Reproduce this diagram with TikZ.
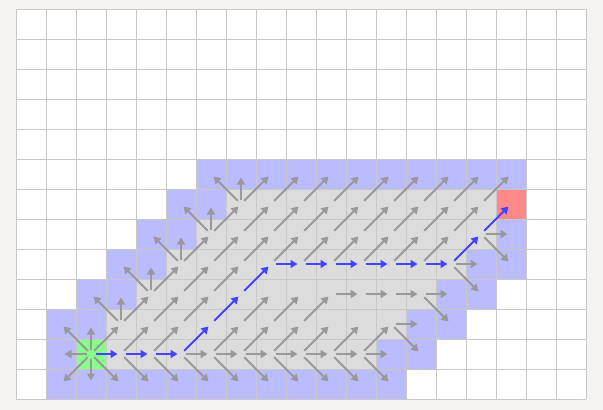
\documentclass[tikz,border=0pt]{standalone}
\usetikzlibrary{arrows.meta}
\definecolor{bgc}{HTML}{F4F3EF}
\definecolor{gridc}{HTML}{C8C8C8}
\definecolor{bluecell}{HTML}{BBBBFF}
\definecolor{graycell}{HTML}{DCDCDC}
\definecolor{startc}{HTML}{88FF88}
\definecolor{goalc}{HTML}{FF8888}
\definecolor{arrgray}{HTML}{999999}
\definecolor{arrblue}{HTML}{4444FF}
\newcommand\cellfill[4]{\fill[#4] ({16+30*#2},{9+30*#1}) rectangle ({46+30*#3},{39+30*#1});}
\begin{document}
\begin{tikzpicture}[x=1pt,y=-1pt,
  garrow/.style={draw=arrgray, line width=2pt, shorten <=4.5pt, shorten >=3.5pt, -{Triangle[length=7pt,width=8pt]}},
  barrow/.style={garrow, draw=arrblue},
  gridline/.style={draw=gridc, line width=1pt}]
\useasboundingbox (0,0) rectangle (603,410);
\fill[bgc] (0,0) rectangle (603,410);
\fill[white] (16,9) rectangle (586,399);
% blue cells
\cellfill{5}{6}{16}{bluecell}
\cellfill{6}{5}{6}{bluecell}
\cellfill{7}{4}{5}{bluecell}
\cellfill{7}{16}{16}{bluecell}
\cellfill{8}{3}{4}{bluecell}
\cellfill{8}{15}{16}{bluecell}
\cellfill{9}{2}{3}{bluecell}
\cellfill{9}{14}{15}{bluecell}
\cellfill{10}{1}{2}{bluecell}
\cellfill{10}{13}{14}{bluecell}
\cellfill{11}{1}{1}{bluecell}
\cellfill{11}{12}{13}{bluecell}
\cellfill{12}{1}{12}{bluecell}
% gray cells
\cellfill{6}{7}{15}{graycell}
\cellfill{7}{6}{15}{graycell}
\cellfill{8}{5}{14}{graycell}
\cellfill{9}{4}{13}{graycell}
\cellfill{10}{3}{12}{graycell}
\cellfill{11}{3}{11}{graycell}
% start and goal
\cellfill{11}{2}{2}{startc}
\cellfill{6}{16}{16}{goalc}
% grid
\foreach \i in {0,...,19} \draw[gridline] ({16+30*\i},9) -- ({16+30*\i},399);
\foreach \j in {0,...,13} \draw[gridline] (16,{9+30*\j}) -- (586,{9+30*\j});
% cell centres
\foreach \i in {0,...,18} \foreach \j in {0,...,12} \coordinate (n\i-\j) at ({31+30*\i},{24+30*\j});
% came-from arrows
\foreach \pa/\pb/\qa/\qb in {2/11/1/10, 2/11/2/10, 2/11/3/10, 2/11/1/11, 2/11/1/12, 2/11/2/12, 2/11/3/12,
  3/10/2/9, 3/10/3/9, 3/10/4/9,
  4/9/3/8, 4/9/4/8, 4/9/5/8,
  5/8/4/7, 5/8/5/7, 5/8/6/7,
  6/7/5/6, 6/7/6/6, 6/7/7/6,
  7/6/6/5, 7/6/7/5, 7/6/8/5,
  3/11/4/10, 3/11/4/12, 4/11/5/10, 4/11/5/12, 5/11/6/11, 5/11/6/12,
  6/11/7/11, 6/11/7/10, 6/11/7/12, 7/11/8/11, 7/11/8/10, 7/11/8/12,
  8/11/9/11, 8/11/9/10, 8/11/9/12, 9/11/10/11, 9/11/10/10, 9/11/10/12,
  10/11/11/11, 10/11/11/10, 10/11/11/12, 11/11/12/11, 11/11/12/10, 11/11/12/12,
  4/10/5/9, 5/10/6/9, 7/10/8/9, 8/10/9/9, 9/10/10/9, 12/10/13/10, 12/10/13/11,
  5/9/6/8, 6/9/7/8, 10/9/11/9, 11/9/12/9, 12/9/13/9, 13/9/14/9, 13/9/14/10,
  6/8/7/7, 7/8/8/7, 8/8/9/7, 9/8/10/7, 10/8/11/7, 11/8/12/7, 12/8/13/7, 13/8/14/7, 14/8/15/8, 14/8/15/9,
  7/7/8/6, 8/7/9/6, 9/7/10/6, 10/7/11/6, 11/7/12/6, 12/7/13/6, 13/7/14/6, 14/7/15/6, 15/7/16/7, 15/7/16/8,
  8/6/9/5, 9/6/10/5, 10/6/11/5, 11/6/12/5, 12/6/13/5, 13/6/14/5, 14/6/15/5, 15/6/16/5}
  \draw[garrow] (n\pa-\pb) -- (n\qa-\qb);
% path
\foreach \pa/\pb/\qa/\qb in {2/11/3/11, 3/11/4/11, 4/11/5/11, 5/11/6/10, 6/10/7/9, 7/9/8/8,
  8/8/9/8, 9/8/10/8, 10/8/11/8, 11/8/12/8, 12/8/13/8, 13/8/14/8, 14/8/15/7, 15/7/16/6}
  \draw[barrow] (n\pa-\pb) -- (n\qa-\qb);
\end{tikzpicture}
\end{document}
